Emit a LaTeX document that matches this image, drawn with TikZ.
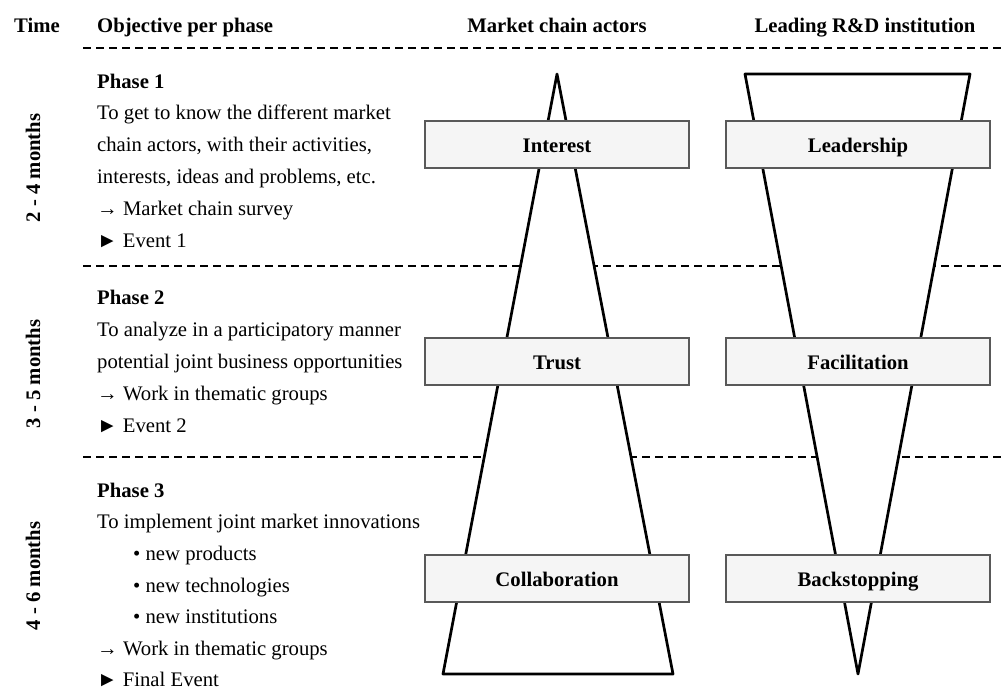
\documentclass[tikz,border=0pt]{standalone}
\usepackage{fontspec}
\setmainfont{Liberation Serif}
\newcommand{\txtsize}{\fontsize{20.7}{24}\selectfont}
\tikzset{
  stagebox/.style={draw=gray!70!black, fill=gray!8, line width=1.1pt,
    minimum width=264pt, minimum height=47pt, inner sep=0pt,
    text height=17pt, text depth=1pt, font=\txtsize\bfseries},
  rowsep/.style={dash pattern=on 8pt off 5pt, line width=1.9pt},
  funnel/.style={fill=white, line width=2.7pt, line join=round},
  txtline/.style={anchor=base west, inner sep=0pt, font=\txtsize},
  headtxt/.style={anchor=base, inner sep=0pt, font=\txtsize\bfseries},
}
\begin{document}
\begin{tikzpicture}[x=1pt,y=-1pt]
\useasboundingbox (0,0) rectangle (1003,689);

% column heads
\node[headtxt] (time) at (37,32) {Time};
\node[headtxt, anchor=base west] (objective) at (97,32) {Objective per phase};
\node[headtxt] (actors) at (557,32) {Market chain actors};
\node[headtxt] (leading) at (865,32) {Leading R\&D institution};

% phase separators
\draw[rowsep] (83,48) -- (1003,48);
\draw[rowsep] (83,266) -- (1003,266);
\draw[rowsep] (83,457) -- (1003,457);

% funnels
\draw[funnel] (557,74) -- (673,674) -- (443,674) -- cycle;
\draw[funnel] (745,74) -- (970,74) -- (858,674) -- cycle;

\node[stagebox] (interest) at (557,144.5) {Interest};
\node[stagebox] (trust) at (557,361.5) {Trust};
\node[stagebox] (collab) at (557,578.5) {Collaboration};
\node[stagebox] (leader) at (858,144.5) {Leadership};
\node[stagebox] (facil) at (858,361.5) {Facilitation};
\node[stagebox] (backstop) at (858,578.5) {Backstopping};

% time spans
\node[headtxt, anchor=center, rotate=90] (span1) at (33,168) {2 - 4 months};
\node[headtxt, anchor=center, rotate=90] (span2) at (33,374) {3 - 5 months};
\node[headtxt, anchor=center, rotate=90] (span3) at (33,576) {4 - 6 months};

% objectives
\foreach \x/\y/\t [count=\i] in {97/88/{\textbf{Phase 1}},
    97/119/{To get to know the different market},
    97/151/{chain actors, with their activities,},
    97/183/{interests, ideas and problems, etc.},
    97/215/{→ Market chain survey},
    97/247/{► Event 1}}
  \node[txtline] (pa\i) at (\x,\y) {\t};
\foreach \x/\y/\t [count=\i] in {97/304/{\textbf{Phase 2}},
    97/336/{To analyze in a participatory manner},
    97/368/{potential joint business opportunities},
    97/400/{→ Work in thematic groups},
    97/432/{► Event 2}}
  \node[txtline] (pb\i) at (\x,\y) {\t};
\foreach \x/\y/\t [count=\i] in {97/497/{\textbf{Phase 3}},
    97/528/{To implement joint market innovations},
    133/560/{• new products},
    133/592/{• new technologies},
    133/623/{• new institutions},
    97/655/{→ Work in thematic groups},
    97/686/{► Final Event}}
  \node[txtline] (pc\i) at (\x,\y) {\t};

\end{tikzpicture}
\end{document}
